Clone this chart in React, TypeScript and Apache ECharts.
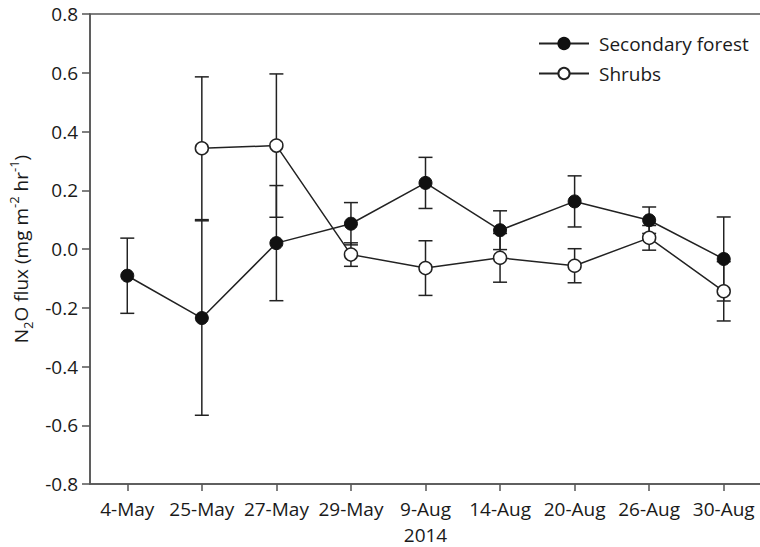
import React, { useEffect, useRef } from "react";
import * as echarts from "echarts";

const categories = ["4-May", "25-May", "27-May", "29-May", "9-Aug", "14-Aug", "20-Aug", "26-Aug", "30-Aug"];
const forestMean = [-0.091, -0.235, 0.02, 0.086, 0.225, 0.064, 0.162, 0.098, -0.034];
const forestErr = [0.128, 0.331, 0.196, 0.072, 0.087, 0.066, 0.087, 0.045, 0.143];
const shrubMean = [null, 0.343, 0.352, -0.019, -0.065, -0.03, -0.057, 0.038, -0.144];
const shrubErr = [null, 0.243, 0.244, 0.04, 0.093, 0.083, 0.058, 0.042, 0.101];
const yTicks = { min: -0.8, max: 0.8, interval: 0.2 };
const xAxisTitle = "2014";

const FONT = "Open Sans";
const INK = "#1a1a1a";
const AXIS = "#555";
const FS = 19;

function errData(mean: (number | null)[], err: (number | null)[]) {
  const out: any[] = [];
  mean.forEach((m, i) => {
    const e = err[i];
    if (m != null && e != null) out.push([i, m - e, m + e]);
  });
  return out;
}

function errRender(params: any, api: any) {
  const x = api.value(0);
  const lo = api.coord([x, api.value(1)]);
  const hi = api.coord([x, api.value(2)]);
  const hw = 7;
  const style = { stroke: "#222", lineWidth: 1.5, fill: "none" };
  return {
    type: "group",
    children: [
      { type: "line", shape: { x1: lo[0], y1: lo[1], x2: hi[0], y2: hi[1] }, style },
      { type: "line", shape: { x1: lo[0] - hw, y1: lo[1], x2: lo[0] + hw, y2: lo[1] }, style },
      { type: "line", shape: { x1: hi[0] - hw, y1: hi[1], x2: hi[0] + hw, y2: hi[1] }, style },
    ],
  };
}

export default function App() {
  const ref = useRef<HTMLDivElement>(null);
  useEffect(() => {
    if (!ref.current) return;
    const chart = echarts.init(ref.current, undefined, { renderer: "svg" });
    chart.setOption({
      animation: false,
      backgroundColor: "#fff",
      textStyle: { fontFamily: FONT },
      grid: {
        left: 90,
        top: 14,
        width: 671,
        height: 470,
        containLabel: false,
        outerBoundsMode: "none",
        show: true,
        borderColor: AXIS,
        borderWidth: 1.5,
        backgroundColor: "transparent",
      },
      legend: {
        orient: "vertical",
        left: 533,
        top: 29,
        itemWidth: 50,
        itemHeight: 14,
        itemGap: 11,
        textStyle: { fontFamily: FONT, fontSize: FS, color: INK, padding: [0, 0, 0, 5] },
        data: ["Secondary forest", "Shrubs"],
      },
      xAxis: {
        type: "category",
        data: categories,
        boundaryGap: true,
        name: xAxisTitle,
        nameLocation: "middle",
        nameGap: 41,
        nameTextStyle: { fontFamily: FONT, fontSize: FS, color: INK },
        axisLine: { onZero: false, lineStyle: { color: AXIS, width: 1.5 } },
        axisTick: { show: true, alignWithLabel: true, length: 7, lineStyle: { color: AXIS, width: 1.5 } },
        axisLabel: { interval: 0, margin: 15, fontFamily: FONT, fontSize: FS, color: INK },
        splitLine: { show: false },
      },
      yAxis: {
        type: "value",
        min: yTicks.min,
        max: yTicks.max,
        interval: yTicks.interval,
        name: "{a|N}{b|2}{a|O flux (mg m}{c|-2}{a| hr}{c|-1}{a|)}",
        nameLocation: "middle",
        nameGap: 55,
        nameTextStyle: {
          fontFamily: FONT,
          color: INK,
          rich: {
            a: { fontFamily: FONT, fontSize: FS, color: INK, lineHeight: 27, verticalAlign: "middle" },
            b: { fontFamily: FONT, fontSize: 13, color: INK, lineHeight: 13, verticalAlign: "bottom" },
            c: { fontFamily: FONT, fontSize: 13, color: INK, lineHeight: 13, verticalAlign: "top" },
          },
        },
        axisLine: { show: true, onZero: false, lineStyle: { color: AXIS, width: 1.5 } },
        axisTick: { show: true, length: 8, lineStyle: { color: AXIS, width: 1.5 } },
        axisLabel: {
          margin: 12,
          fontFamily: FONT,
          fontSize: FS,
          color: INK,
          formatter: (v: number) => v.toFixed(1),
        },
        splitLine: { show: false },
      },
      series: [
        {
          type: "custom",
          name: "forestErr",
          renderItem: errRender,
          data: errData(forestMean, forestErr),
          z: 1,
          silent: true,
        },
        {
          type: "custom",
          name: "shrubErr",
          renderItem: errRender,
          data: errData(shrubMean, shrubErr),
          z: 1,
          silent: true,
        },
        {
          type: "line",
          name: "Secondary forest",
          data: forestMean,
          symbol: "circle",
          symbolSize: 13,
          z: 3,
          lineStyle: { color: "#222", width: 1.5 },
          itemStyle: { color: "#111", borderColor: "#111", borderWidth: 1 },
        },
        {
          type: "line",
          name: "Shrubs",
          data: shrubMean,
          symbol: "circle",
          symbolSize: 13,
          z: 3,
          lineStyle: { color: "#222", width: 1.5 },
          itemStyle: { color: "#fff", borderColor: "#222", borderWidth: 1.5 },
        },
      ],
    });
    return () => chart.dispose();
  }, []);
  return (
    <div
      ref={ref}
      style={{ position: "fixed", left: 0, top: 0, width: 760, height: 547, background: "#fff" }}
    />
  );
}
